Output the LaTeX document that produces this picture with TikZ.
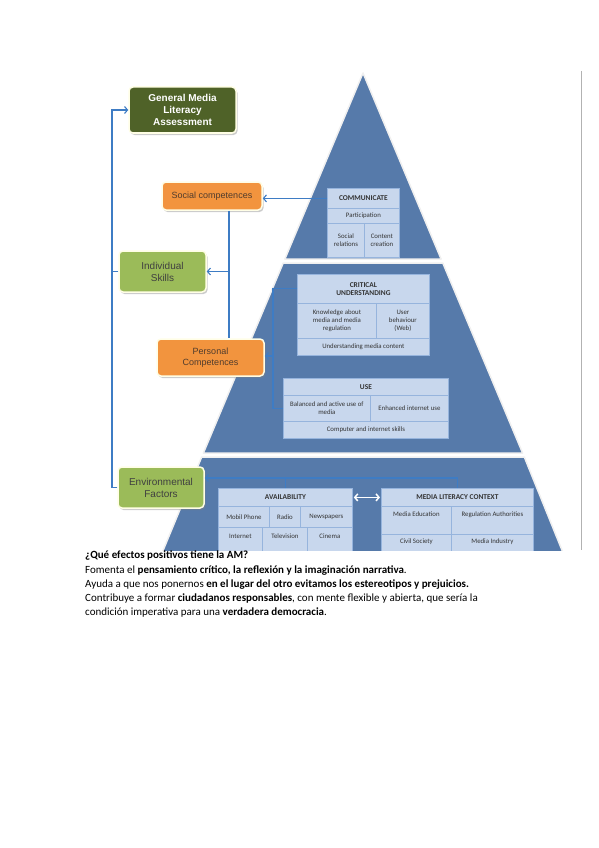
\documentclass[tikz,border=0pt]{standalone}
\usepackage{fontspec}
\setmainfont{Carlito}
\newfontfamily\boxfont{Liberation Sans}
\usetikzlibrary{arrows.meta,shadows}
\definecolor{bandblue}{RGB}{86,122,170}
\definecolor{cellfill}{RGB}{200,215,237}
\definecolor{cellline}{RGB}{150,180,221}
\definecolor{linkblue}{RGB}{62,124,196}
\definecolor{olive}{RGB}{79,98,40}
\definecolor{orangebox}{RGB}{242,148,62}
\definecolor{limebox}{RGB}{155,187,89}
\definecolor{browntext}{RGB}{80,60,45}

\begin{document}
\begin{tikzpicture}[x=1pt,y=-1pt,
  band/.style={fill=bandblue, draw=white!88!gray, line width=1.5pt, line join=round},
  sz/.style 2 args={minimum width=#1pt, minimum height=#2pt},
  cell/.style={draw=cellline, fill=cellfill, line width=.8pt, anchor=north west,
    inner sep=1pt, align=center, text=black!80, font=\fontsize{6.8}{8.3}\selectfont},
  head/.style={cell, font=\fontsize{7.4}{8.6}\selectfont\bfseries},
  cutrow/.style={text height=4.5pt, text depth=7.5pt},
  sidebox/.style={rounded corners=4pt, draw=white!90!yellow, line width=1.5pt,
    align=center, inner sep=2pt,
    drop shadow={shadow xshift=1.5pt, shadow yshift=-2pt, opacity=.4}},
  conn/.style={draw=linkblue, line width=1.1pt},
  toarrow/.style={-{Straight Barb[length=3pt,width=7pt]}}]
\useasboundingbox (0,0) rectangle (599,848);
% frame edge of the pasted picture
\draw[gray!60, line width=.6pt] (581,71) -- (581,550);
% the pyramid and its tables
\begin{scope}
\clip (85,60) rectangle (581,550);
\draw[band] (363,73) -- (441.1,259) -- (284.9,259) -- cycle;
\draw[band] (283.2,263) -- (442.8,263) -- (522.6,453) -- (203.4,453) -- cycle;
\draw[band] (201.7,457) -- (524.3,457) -- (570,570) -- (155,570) -- cycle;
% communicate
\node[head, sz={72}{20}] (commhead) at (327,188) {COMMUNICATE};
\node[cell, sz={72}{15}] (commpart) at (327,208) {Participation};
\node[cell, sz={37}{34}] (commsoc) at (327,223) {Social\\relations};
\node[cell, sz={35}{34}] (commcont) at (364,223) {Content\\creation};
% critical understanding
\node[head, sz={132}{29}] (crithead) at (297,274) {CRITICAL\\UNDERSTANDING};
\node[cell, sz={79}{35}] (critknow) at (297,303) {Knowledge about\\media and media\\regulation};
\node[cell, sz={53}{35}] (crituser) at (376,303) {User\\behaviour\\(Web)};
\node[cell, sz={132}{17}] (critcont) at (297,338) {Understanding media content};
% use
\node[head, sz={165}{17}] (usehead) at (283,378) {USE};
\node[cell, sz={87}{26}] (usebal) at (283,395) {Balanced and active use of\\media};
\node[cell, sz={78}{26}] (useinet) at (370,395) {Enhanced internet use};
\node[cell, sz={165}{17}] (useskill) at (283,421) {Computer and internet skills};
% availability
\node[head, sz={134}{18}] (avhead) at (218,488) {AVAILABILITY};
\node[cell, sz={51}{21}] (avmob) at (218,506) {Mobil Phone};
\node[cell, sz={31}{21}] (avradio) at (269,506) {Radio};
\node[cell, sz={52}{21}] (avnews) at (300,506) {Newspapers};
\node[cell, cutrow, sz={44}{26}] (avinet) at (218,527) {Internet};
\node[cell, cutrow, sz={45}{26}] (avtv) at (262,527) {Television};
\node[cell, cutrow, sz={45}{26}] (avcin) at (307,527) {Cinema};
% media literacy context
\node[head, sz={152}{18}] (mlhead) at (381,488) {MEDIA LITERACY CONTEXT};
\node[cell, text height=5pt, text depth=12pt, sz={70}{28}] (mledu) at (381,506) {Media Education};
\node[cell, text height=5pt, text depth=12pt, sz={82}{28}] (mlreg) at (451,506) {Regulation Authorities};
\node[cell, cutrow, sz={70}{22}] (mlciv) at (381,534) {Civil Society};
\node[cell, cutrow, sz={82}{22}] (mlind) at (451,534) {Media Industry};
\end{scope}
% boxes on the left
\node[sidebox, fill=olive, text=white, sz={107}{46},
  font=\boxfont\bfseries\fontsize{10}{12}\selectfont] (general) at (182.5,110) {General Media\\Literacy\\Assessment};
\node[sidebox, fill=orangebox, text=browntext, sz={100}{28},
  font=\boxfont\fontsize{9}{11}\selectfont] (social) at (212,196) {Social competences};
\node[sidebox, fill=limebox, text=black!75, sz={87}{41},
  font=\boxfont\fontsize{10}{12}\selectfont] (individual) at (162.5,271.5) {Individual\\Skills};
\node[sidebox, fill=orangebox, text=browntext, sz={107}{37},
  font=\boxfont\fontsize{9}{11}\selectfont] (personal) at (210.5,357.5) {Personal\\Competences};
\node[sidebox, fill=limebox, text=black!75, sz={86}{41},
  font=\boxfont\fontsize{10}{12}\selectfont] (environ) at (161,487.5) {Environmental\\Factors};
% joints
\coordinate (sj) at (229,270);
\coordinate (pj) at (273,356);
\coordinate (lj) at (112,300);
\coordinate (ej) at (300,478);
% connectors
\draw[conn, toarrow] (commhead.west) -- (commhead.west -| social.east);
\draw[conn] (social.south -| sj) -- (personal.north -| sj);
\draw[conn, toarrow] (individual.east -| sj) -- (individual.east);
\draw[conn] (crithead.west) -| (pj) |- (usebal.west);
\draw[conn, toarrow] (pj) -- (personal.east |- pj);
\draw[conn, toarrow] (environ.west) -| (lj) |- (general.west);
\draw[conn] (individual.west) -- (individual.west -| lj);
\draw[conn] (avhead.north) -- (avhead.north |- ej);
\draw[conn, toarrow] (mlhead.north) -- (mlhead.north |- ej) -- (environ.east |- ej);
\draw[white, line width=1.5pt, {Straight Barb[length=3pt,width=7pt]}-{Straight Barb[length=3pt,width=7pt]},
  shorten <=1pt, shorten >=1pt] (avhead.east) -- (mlhead.west);
% text under the picture
\node[anchor=north west, align=left, inner sep=0, font=\fontsize{11}{14.2}\selectfont] (answer) at (85,551)
  {\textbf{¿Qué efectos positivos tiene la AM?}\\
   Fomenta el \textbf{pensamiento crítico, la reflexión y la imaginación narrativa}.\\
   Ayuda a que nos ponernos \textbf{en el lugar del otro evitamos los estereotipos y prejuicios.}\\
   Contribuye a formar \textbf{ciudadanos responsables}, con mente flexible y abierta, que sería la\\
   condición imperativa para una \textbf{verdadera democracia}.};
\end{tikzpicture}
\end{document}
